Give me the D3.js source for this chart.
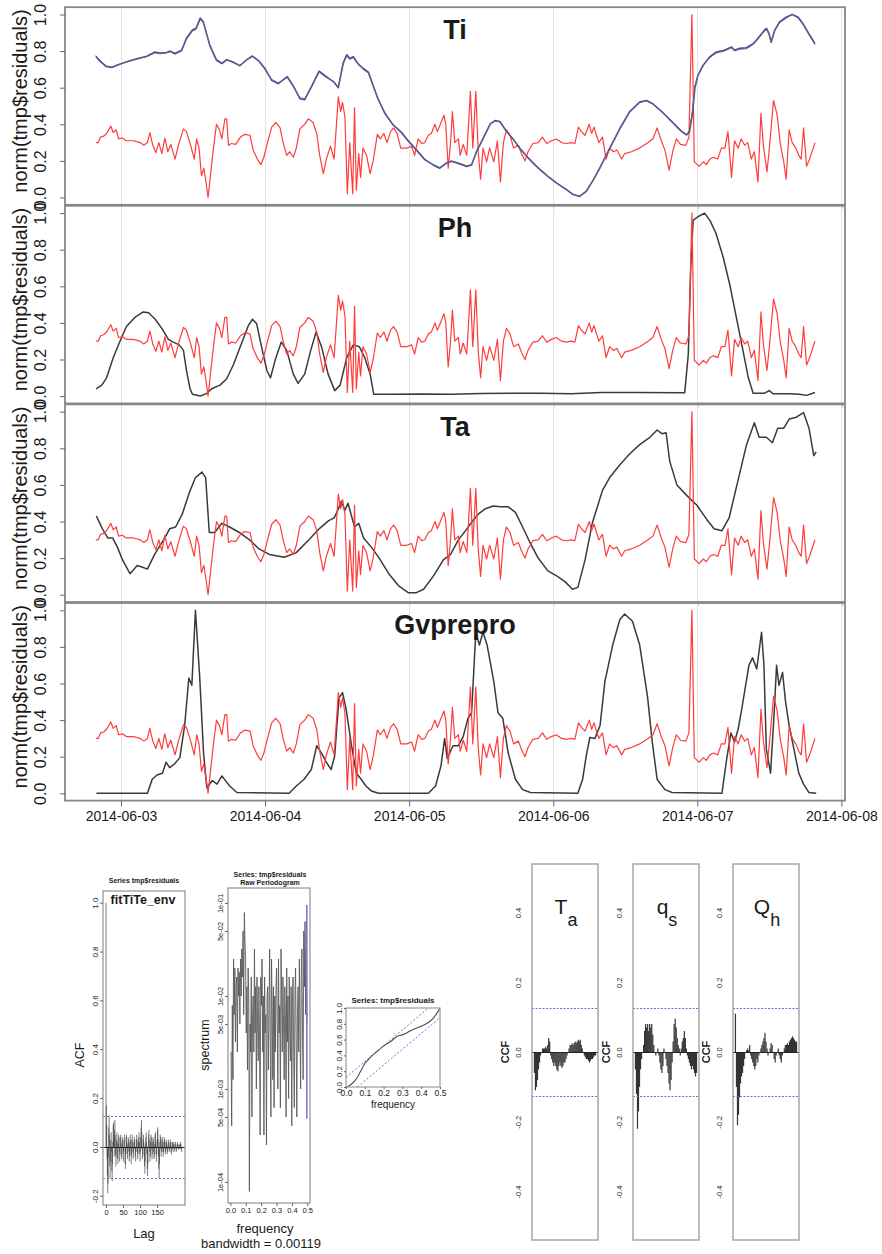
<!DOCTYPE html>
<html><head><meta charset="utf-8">
<script src="https://cdn.jsdelivr.net/npm/d3@7/dist/d3.min.js"></script>
<style>
html,body{margin:0;padding:0;background:#fff;}
svg{display:block;}
text{font-family:"Liberation Sans",Arial,Helvetica,sans-serif;fill:#1a1a1a;}
</style></head>
<body>
<svg id="chart" width="882" height="1254"></svg>
<script>
// ---------------- DATA ----------------
const panelTitles = ["Ti", "Ph", "Ta", "Gvprepro"];
const yAxisLabel = "norm(tmp$residuals)";
const yTickValues = [0, 0.2, 0.4, 0.6, 0.8, 1.0];
const dayLabels = ["2014-06-03", "2014-06-04", "2014-06-05", "2014-06-06", "2014-06-07", "2014-06-08"];

// hours since 2014-06-03 00:00
const redHours = [-4.2,-3.8,-3.4,-2.9,-2.4,-1.7,-1.3,-0.8,-0.4,0.2,
 0.9,2.05,3.2,3.8,4.4,4.8,5.3,5.8,6.3,6.8,
 7.3,7.8,8.3,9.0,9.6,10.4,10.9,11.6,12.2,12.6,
 13.0,13.4,13.8,14.2,14.5,14.9,15.4,15.9,16.4,16.8,
 17.3,17.6,17.9,18.4,19.1,19.9,20.6,21.5,22.0,22.7,
 23.3,23.8,24.4,25.1,25.8,26.5,27.0,27.6,28.1,28.7,
 29.2,29.8,30.6,31.2,32.0,32.6,33.1,33.7,34.2,34.9,
 35.5,36.2,36.6,36.9,37.3,37.7,38.1,38.6,38.9,39.2,
 39.6,39.9,40.3,40.9,41.5,42.0,42.7,43.2,43.8,44.3,
 44.9,45.4,46.0,46.6,47.6,48.4,48.9,49.5,50.1,50.6,
 51.2,51.7,52.3,52.7,53.2,53.8,54.1,54.5,54.9,55.2,
 55.6,56.2,56.5,57.0,57.6,58.2,58.6,59.1,59.5,59.9,
 60.3,60.9,61.4,62.1,62.7,63.2,63.7,64.2,64.8,65.4,
 66.2,66.7,67.3,67.8,68.6,69.5,70.2,70.9,71.7,72.5,
 73.4,74.2,75.0,75.6,76.2,76.7,77.3,78.0,78.4,78.8,
 79.2,79.6,80.2,80.8,81.4,82.0,82.6,83.4,83.9,85.0,
 86.4,87.8,88.6,89.3,90.0,90.6,91.3,91.9,92.5,93.2,
 94.1,94.6,95.1,95.5,96.3,97.0,97.5,98.1,98.7,99.4,
 100.0,100.6,101.1,101.7,102.2,102.8,103.3,103.9,104.4,105.0,
 105.5,106.1,106.6,107.0,107.6,108.0,108.7,109.3,109.8,110.4,
 110.8,111.3,111.8,112.4,112.9,113.3,113.7,114.2,114.7,115.6];
const redValues = [.30,.30,.33,.335,.35,.39,.355,.37,.32,.325,
 .31,.31,.30,.285,.30,.355,.285,.245,.30,.24,
 .325,.25,.29,.21,.29,.375,.36,.285,.21,.32,
 .27,.12,.16,.075,0,.12,.27,.40,.37,.32,
 .43,.43,.285,.295,.29,.33,.345,.34,.26,.21,
 .18,.22,.30,.385,.41,.38,.30,.23,.25,.22,
 .27,.375,.40,.43,.41,.35,.23,.13,.21,.28,
 .21,.55,.47,.52,.44,.02,.30,.02,.49,.04,
 .24,.11,.27,.23,.13,.20,.345,.32,.35,.30,
 .36,.38,.35,.27,.27,.28,.23,.32,.295,.30,
 .34,.35,.40,.36,.40,.45,.40,.16,.30,.47,
 .30,.32,.23,.29,.23,.58,.27,.58,.25,.10,
 .27,.195,.27,.195,.31,.085,.30,.37,.34,.27,
 .285,.24,.20,.25,.295,.30,.33,.295,.31,.32,
 .30,.295,.30,.295,.385,.36,.34,.40,.35,.385,
 .34,.30,.33,.21,.27,.25,.26,.21,.24,.25,
 .27,.30,.32,.38,.31,.26,.15,.25,.32,.29,
 .285,.33,1.0,.195,.17,.195,.18,.21,.22,.21,
 .27,.27,.36,.11,.31,.27,.32,.285,.30,.21,
 .25,.085,.46,.285,.14,.27,.53,.45,.30,.195,
 .10,.37,.30,.27,.23,.21,.38,.17,.21,.30];

const tiHours = [-4.2,-3.5,-2.5,-1.55,-0.44,0.94,2.6,4.3,5.66,6.5,
 7.6,8.2,9.0,10.1,10.9,11.9,12.5,13.2,13.7,14.8,
 15.9,16.8,17.6,18.7,19.8,20.9,21.9,22.9,23.97,25.1,
 26.2,27.7,28.7,29.8,30.6,31.7,33.0,34.2,35.4,36.2,
 37.0,37.6,38.1,38.7,39.5,40.35,41.2,42.0,42.8,43.95,
 45.3,46.7,47.8,49.2,50.6,52.0,53.1,54.2,55.05,56.2,
 57.6,58.4,59.2,60.3,61.5,62.3,63.1,64.2,65.4,66.4,
 67.6,68.65,69.8,71.1,72.5,74.2,75.3,76.4,77.5,78.6,
 79.7,81.4,83.1,84.7,86.4,87.5,88.6,90.3,91.95,93.4,
 94.2,94.7,95.2,95.6,96.1,96.95,98.05,99.2,100.5,101.7,
 102.2,103.05,104.2,105.3,106.1,106.95,107.5,107.95,108.3,108.9,
 109.7,110.8,111.8,112.8,113.6,114.4,115.6];
const tiObserved = [.776,.75,.72,.713,.727,.74,.755,.77,.79,.785,
 .79,.796,.783,.80,.864,.91,.918,.973,.955,.836,
 .755,.736,.755,.736,.722,.75,.77,.745,.70,.645,
 .627,.655,.605,.545,.54,.60,.685,.655,.636,.605,
 .727,.773,.755,.764,.727,.70,.68,.609,.536,.464,
 .40,.36,.315,.264,.21,.18,.164,.19,.20,.19,
 .173,.18,.245,.318,.40,.418,.413,.364,.318,.273,
 .227,.19,.155,.118,.082,.045,.018,.008,.036,.09,
 .155,.264,.373,.464,.518,.527,.51,.464,.41,.364,
 .345,.364,.48,.61,.664,.718,.764,.79,.80,.818,
 .80,.81,.813,.836,.864,.90,.918,.89,.845,.91,
 .955,.98,1.0,.98,.945,.90,.836];
const tiFitted = [.772,.745,.716,.71,.725,.742,.758,.772,.795,.79,
 .792,.80,.787,.805,.87,.915,.925,.98,.96,.83,
 .75,.732,.752,.74,.72,.752,.773,.748,.705,.64,
 .622,.66,.61,.54,.535,.605,.69,.66,.632,.60,
 .735,.78,.76,.77,.73,.705,.685,.612,.54,.46,
 .398,.355,.31,.26,.207,.178,.16,.188,.198,.186,
 .17,.178,.25,.322,.402,.42,.415,.362,.315,.27,
 .224,.188,.152,.115,.08,.043,.016,.006,.034,.092,
 .158,.268,.377,.468,.522,.53,.512,.462,.408,.36,
 .342,.36,.46,.60,.668,.722,.768,.795,.805,.822,
 .805,.815,.818,.84,.87,.905,.925,.895,.85,.915,
 .96,.985,1.0,.985,.95,.905,.84];

const phHours = [-4.16,-3.2,-2.4,-1.3,-0.17,0.9,2.3,3.7,4.6,5.7,
 6.8,7.9,8.7,9.7,10.4,10.9,11.5,11.9,13.2,14.3,
 15.1,16.5,17.6,18.7,20.1,21.2,21.9,22.6,23.4,24.3,
 24.9,25.8,26.7,27.6,28.7,29.5,30.6,31.6,32.5,33.4,
 34.5,35.6,36.5,37.6,38.7,39.7,40.6,41.5,42.1,45.0,
 50.0,55.0,60.0,65.0,70.0,75.0,80.0,86.0,93.9,94.5,
 94.9,95.3,96.1,97.2,98.1,99.1,100.3,101.4,102.5,103.6,
 104.5,105.3,106.4,107.2,108.0,108.6,111.4,113.0,114.2,115.6];
const phValues = [.04,.06,.10,.21,.30,.38,.43,.46,.455,.42,
 .37,.31,.295,.28,.25,.14,.04,.01,0,.015,
 .04,.06,.095,.17,.29,.385,.42,.395,.27,.14,
 .10,.21,.295,.25,.12,.07,.12,.25,.35,.27,
 .12,.03,.06,.21,.28,.27,.21,.12,.01,.01,
 .012,.01,.014,.016,.016,.013,.02,.02,.018,.23,
 .70,.96,.98,1.0,.96,.89,.76,.61,.43,.25,
 .10,.016,.016,.016,.03,.013,.013,.01,.004,.02];

const taHours = [-4.1,-3.1,-2.2,-1.4,-0.6,0.25,1.5,2.7,3.6,4.4,
 5.6,7.3,8.1,9.1,10.2,11.4,12.4,13.5,14.1,14.7,
 15.6,16.8,18.1,19.7,21.4,23.0,24.7,27.2,29.2,31.3,
 33.0,34.6,35.5,36.1,36.7,37.3,37.8,38.4,38.9,39.6,
 40.4,41.7,42.9,44.6,46.2,47.9,49.1,50.4,52.0,53.7,
 54.9,56.2,57.4,58.5,59.5,60.7,62.0,63.2,64.5,65.7,
 66.9,68.2,69.4,71.1,72.7,74.0,75.2,76.1,77.3,78.5,
 80.2,81.4,83.1,84.75,86.4,88.1,89.3,90.1,90.8,91.4,
 92.6,94.3,95.9,97.6,98.8,100.1,101.3,102.6,104.2,105.5,
 106.3,107.5,108.5,109.4,110.4,111.3,112.5,113.7,114.6,115.4,
 115.8];
const taValues = [.43,.36,.31,.31,.26,.19,.115,.16,.15,.14,
 .22,.31,.36,.37,.44,.56,.64,.67,.64,.34,
 .34,.39,.37,.34,.30,.25,.22,.205,.23,.30,
 .36,.405,.42,.46,.51,.46,.50,.43,.37,.39,
 .31,.26,.205,.115,.05,.01,.01,.03,.10,.19,
 .22,.30,.35,.40,.44,.47,.485,.48,.48,.45,
 .37,.28,.205,.13,.10,.07,.03,.04,.19,.39,
 .57,.64,.71,.77,.82,.86,.90,.88,.885,.73,
 .60,.54,.49,.41,.36,.35,.42,.60,.82,.94,
 .86,.86,.83,.91,.91,.96,.97,.995,.91,.76,
 .78];

const gvHours = [-4.1,4.4,5.2,6.0,6.9,7.5,8.1,8.9,9.8,10.6,
 11.3,11.8,12.4,13.1,13.75,14.3,15.2,16.0,16.8,18.1,
 19.3,28.0,29.2,30.5,31.7,32.6,33.4,34.2,35.0,35.6,
 36.3,36.9,37.5,38.4,39.2,40.0,40.8,41.7,42.9,51.2,
 52.4,53.3,53.9,54.35,55.3,56.2,57.0,57.8,58.4,59.1,
 59.7,60.3,60.98,61.6,62.1,62.8,63.6,64.5,65.7,66.9,
 68.2,76.1,76.9,77.5,78.1,78.95,79.8,80.6,81.9,83.1,
 83.9,85.2,86.4,87.7,88.5,89.3,90.6,91.8,100.1,100.9,
 101.6,102.2,102.8,103.4,104.6,105.2,105.9,106.7,107.1,107.5,
 108.2,108.8,109.2,109.6,110.2,110.7,111.3,112.1,112.9,113.7,
 114.6,115.8];
const gvValues = [0,0,.077,.10,.11,.17,.14,.16,.195,.37,
 .63,.59,1.0,.64,.22,.03,.07,.05,.095,.04,
 .004,0,.04,.077,.13,.26,.22,.17,.13,.205,
 .52,.55,.46,.26,.11,.077,.04,.013,0,0,
 .04,.15,.30,.19,.26,.26,.31,.41,.44,.88,
 .81,.88,.81,.70,.61,.44,.41,.22,.077,.02,
 .004,0,.077,.205,.305,.30,.37,.61,.81,.95,
 .98,.94,.81,.53,.28,.077,.02,.004,0,.19,
 .33,.28,.35,.46,.70,.74,.68,.88,.70,.24,
 .11,.44,.70,.59,.66,.50,.37,.24,.11,.05,
 .004,0];

// ACF of residuals, lags 0..223
const acfValues = [1.00,0.17,0.09,-0.05,-0.12,-0.19,-0.15,-0.04,0.08,0.13,
 0.05,-0.08,-0.13,-0.06,0.03,0.06,-0.02,-0.10,-0.14,-0.07,
 0.02,0.09,0.10,0.04,-0.04,0.07,0.11,0.05,-0.03,-0.08,
 -0.04,0.03,0.06,0.02,-0.05,-0.07,0.01,0.05,0.04,-0.02,
 -0.06,-0.03,0.04,0.05,0.01,-0.04,-0.05,0.02,0.04,0.03,
 -0.03,-0.06,-0.02,0.03,0.05,0.00,-0.07,-0.09,-0.03,0.04,
 0.05,0.02,-0.03,-0.05,0.01,0.04,0.03,-0.02,-0.06,-0.04,
 0.02,0.05,0.03,-0.03,-0.07,-0.04,0.03,0.05,0.02,-0.02,
 -0.05,-0.03,0.02,0.04,0.03,-0.01,-0.04,-0.06,-0.02,0.03,
 0.05,0.03,-0.02,-0.05,-0.03,0.02,0.04,0.06,0.02,-0.03,
 -0.06,-0.02,0.04,0.08,0.11,0.06,-0.01,-0.05,-0.03,0.03,
 0.05,0.02,-0.04,-0.08,-0.11,-0.06,0.01,0.04,0.06,0.02,
 -0.03,-0.09,-0.12,-0.07,0.00,0.05,0.07,0.03,-0.02,-0.06,
 -0.04,0.02,0.05,0.04,-0.01,-0.05,-0.03,0.02,0.04,0.03,
 -0.02,-0.05,-0.04,0.01,0.05,0.06,0.02,-0.03,-0.06,-0.03,
 0.03,0.07,0.08,0.03,-0.04,-0.09,-0.13,-0.07,0.02,0.05,
 0.04,-0.01,-0.04,-0.02,0.03,0.04,0.02,-0.02,-0.04,-0.02,
 0.02,0.04,0.03,-0.01,-0.03,-0.02,0.02,0.03,0.02,-0.01,
 -0.03,-0.02,0.01,0.03,0.02,-0.01,-0.02,-0.01,0.02,0.03,
 0.01,-0.02,-0.03,0.00,0.02,0.02,-0.01,-0.02,0.01,0.02,
 0.01,-0.01,-0.02,0.00,0.02,0.01,-0.01,-0.02,0.00,0.01,
 0.02,0.00,-0.01,-0.01,0.01,0.01,0.00,-0.01,0.01,0.02,
 0.01,-0.01,-0.02,0.00];
const acfTicks = [-0.2, 0.0, 0.2, 0.4, 0.6, 0.8, 1.0];
const lagTicks = [0, 50, 100, 150];
const acfBound = 0.128;

// raw periodogram, frequencies k/243, k = 1..121
const pgramValues = [2.5e-3,4e-4,7.9e-3,1.26e-3,2.5e-2,6.3e-3,2e-2,3.2e-3,1.26e-2,1.6e-2,2.5e-3,2e-2,
 1e-2,1.8e-2,5e-3,2.5e-2,1e-2,3.2e-2,1.6e-2,5e-2,6.3e-3,7.9e-2,4e-2,2.5e-2,
 4e-3,1.26e-2,1.6e-3,2e-2,1e-2,7.9e-5,5e-3,2.5e-3,1.6e-2,5e-4,6.3e-3,1e-2,
 2.5e-3,3.2e-2,4e-3,1.26e-2,1e-3,1.6e-2,5e-3,2e-3,1.26e-2,4e-3,3.2e-4,1.6e-2,
 7.9e-3,2.5e-2,2.5e-3,1e-2,3.2e-4,1.6e-2,4e-3,6.3e-3,2.5e-4,1e-2,1.26e-2,1.6e-3,
 6.3e-3,3.2e-2,3.2e-3,5e-4,2.5e-2,7.9e-3,1.26e-3,1.26e-2,6.3e-4,1e-2,2.5e-3,1.26e-2,
 2e-2,5e-3,1e-3,2.5e-2,4e-3,7.9e-3,6.3e-4,3.2e-2,1e-2,2.5e-3,1.6e-2,5e-3,
 1.26e-3,1.26e-2,6.3e-3,5e-4,2e-2,3.2e-3,1e-2,7.9e-4,1.6e-2,4e-3,2e-3,1.26e-2,
 4e-4,7.9e-3,1.6e-2,2.5e-3,6.3e-4,1e-2,2e-2,3.2e-3,5e-4,6.3e-3,1.26e-2,2.5e-3,
 2.5e-2,5e-3,1e-3,1.6e-2,3.2e-2,4e-3,1.26e-3,5e-2,1.26e-2,6.3e-2,6.3e-3,3.2e-2,5e-3];
const pgramN = 243;
const pgramTicks = [1e-4, 5e-4, 1e-3, 5e-3, 1e-2, 5e-2, 1e-1];
const pgramTickLabels = ["1e-04", "5e-04", "1e-03", "5e-03", "1e-02", "5e-02", "1e-01"];
const pgramCI = [4.8e-4, 9.5e-2];
const freqTicks = [0, 0.1, 0.2, 0.3, 0.4, 0.5];

// cumulative periodogram
const cpFreq = [0,.02,.04,.06,.08,.10,.12,.14,.16,.18,.20,.22,.24,.26,.28,.30,.32,.34,.36,.38,.40,.42,.44,.46,.48,.50];
const cpValues = [0,.02,.06,.12,.21,.30,.35,.40,.44,.48,.52,.55,.58,.62,.65,.66,.68,.71,.73,.75,.77,.79,.82,.86,.92,1.0];
const cpCrit = 0.1226;
const cpYTicks = [0, 0.2, 0.4, 0.6, 0.8, 1.0];

// cross-correlations, lags 0..60
const ccfTa = [-0.06,-0.11,-0.10,-0.08,-0.05,-0.03,-0.01,0.00,0.01,0.01,
 0.01,0.015,0.01,0.02,0.04,0.03,-0.01,-0.02,-0.03,-0.04,
 -0.03,-0.04,-0.05,-0.055,-0.04,-0.03,-0.04,-0.045,-0.04,-0.03,
 -0.03,-0.02,-0.01,0.00,0.01,0.02,0.02,0.025,0.02,0.025,
 0.03,0.025,0.03,0.035,0.03,0.035,0.02,0.01,0.00,-0.01,
 -0.015,-0.02,-0.02,-0.025,-0.03,-0.025,-0.02,-0.02,-0.015,-0.01,-0.01];
const ccfQs = [-0.05,-0.12,-0.22,-0.17,-0.10,-0.05,-0.02,0.00,0.02,0.06,
 0.08,0.07,0.08,0.06,0.08,0.07,0.08,0.05,0.02,0.00,
 -0.01,0.00,0.01,-0.01,-0.03,-0.05,-0.06,-0.04,0.01,0.00,
 -0.02,-0.04,-0.06,-0.09,-0.11,-0.08,-0.03,0.03,0.08,0.095,
 0.07,0.04,0.02,0.01,-0.01,0.01,0.03,0.04,0.06,0.04,
 0.01,-0.01,-0.02,-0.03,-0.04,-0.05,-0.04,-0.05,-0.06,-0.07,-0.06];
const ccfQh = [0.11,-0.10,-0.21,-0.18,-0.13,-0.09,-0.07,-0.06,-0.04,-0.02,
 0.00,0.005,0.01,0.005,0.02,-0.01,-0.02,-0.03,-0.04,-0.05,
 -0.04,-0.02,-0.03,-0.01,0.00,0.01,0.02,0.03,0.04,0.055,
 0.03,0.01,-0.01,0.00,0.01,0.025,0.02,0.00,-0.02,-0.03,
 -0.01,0.00,0.01,-0.01,-0.02,-0.03,-0.01,0.00,0.01,0.02,
 0.02,0.025,0.02,0.03,0.035,0.04,0.045,0.04,0.035,0.03,0.03];
const ccfSeries = [
  {main: "T", sub: "a", values: ccfTa},
  {main: "q", sub: "s", values: ccfQs},
  {main: "Q", sub: "h", values: ccfQh}
];
const ccfTicks = [-0.4, -0.2, 0.0, 0.2, 0.4];
const ccfBound = 0.126;

// ---------------- DRAW ----------------
const svg = d3.select("#chart");
const RED = "#ff3c3c", DARK = "#3a3a3a", BLUE = "#4848b0", DASHBLUE = "#6f6fd8";
const fmt1 = d => d.toFixed(1);
const snap = v => Math.round(v) + 0.5;

function rotText(g, x, y, txt, size, weight) {
  return g.append("text").attr("transform", `translate(${x},${y}) rotate(-90)`)
    .attr("text-anchor", "middle").attr("dominant-baseline", "central")
    .style("font-size", size + "px").style("font-weight", weight || "normal").text(txt);
}
function plainText(g, x, y, txt, size, weight) {
  return g.append("text").attr("x", x).attr("y", y).attr("text-anchor", "middle")
    .style("font-size", size + "px").style("font-weight", weight || "normal").text(txt);
}
function styleLeftAxis(ax, offset, size) {
  ax.attr("font-size", null).attr("font-family", null);
  ax.select(".domain").remove();
  ax.selectAll(".tick line").attr("stroke", "#666");
  ax.selectAll(".tick text").attr("x", null).attr("dy", null)
    .attr("transform", `translate(${-offset},0) rotate(-90)`)
    .attr("text-anchor", "middle").attr("dominant-baseline", "central")
    .style("font-size", size + "px").attr("fill", "#222");
}
function styleBottomAxis(ax, size) {
  ax.attr("font-size", null).attr("font-family", null);
  ax.select(".domain").remove();
  ax.selectAll(".tick line").attr("stroke", "#666");
  ax.selectAll(".tick text").style("font-size", size + "px").attr("fill", "#222");
}

// ---- main time-series panels ----
const t0 = Date.UTC(2014, 5, 3);
const toDate = h => new Date(t0 + h * 3600000);
const parseDay = d3.utcParse("%Y-%m-%d");
const dayTicks = dayLabels.map(parseDay);
const x = d3.scaleUtc().domain([toDate(-9.33), toDate(120.6)]).range([65, 845]);
const zip = (hs, vs) => hs.map((h, i) => [h, vs[i]]);

const panels = [
  {title: panelTitles[0], lines: [
    {data: zip(redHours, redValues), color: RED, w: 1.2},
    {data: zip(tiHours, tiFitted), color: BLUE, w: 1.6},
    {data: zip(tiHours, tiObserved), color: "#6a6a6a", w: 1.0}]},
  {title: panelTitles[1], lines: [
    {data: zip(phHours, phValues), color: DARK, w: 1.5},
    {data: zip(redHours, redValues), color: RED, w: 1.2}]},
  {title: panelTitles[2], lines: [
    {data: zip(taHours, taValues), color: DARK, w: 1.5},
    {data: zip(redHours, redValues), color: RED, w: 1.2}]},
  {title: panelTitles[3], lines: [
    {data: zip(gvHours, gvValues), color: DARK, w: 1.5},
    {data: zip(redHours, redValues), color: RED, w: 1.2}]}
];

panels.forEach((p, i) => {
  const y = d3.scaleLinear().domain([0, 1]).range([197.5 + 198.6 * i, 14.5 + 198.6 * i]);
  const top = y(1.04), bot = y(-0.04);
  const g = svg.append("g");
  g.selectAll("line.grid").data(dayTicks).join("line").attr("class", "grid")
    .attr("x1", d => snap(x(d))).attr("x2", d => snap(x(d))).attr("y1", top).attr("y2", bot)
    .attr("stroke", "#e4e4e4").attr("stroke-width", 1);
  const line = d3.line().x(d => x(toDate(d[0]))).y(d => y(d[1]));
  p.lines.forEach(l => g.append("path").attr("d", line(l.data)).attr("fill", "none")
    .attr("stroke", l.color).attr("stroke-width", l.w).attr("stroke-linejoin", "round"));
  g.append("rect").attr("x", 65).attr("y", top).attr("width", 780).attr("height", bot - top)
    .attr("fill", "none").attr("stroke", "#878787").attr("stroke-width", 1.8);
  const ya = g.append("g").attr("transform", "translate(65,0)")
    .call(d3.axisLeft(y).tickValues(yTickValues).tickFormat(fmt1).tickSize(5));
  styleLeftAxis(ya, 25, 16);
  rotText(g, 20, y(0.5) - 5, yAxisLabel, 20);
  plainText(g, 455, y(1) + 24, p.title, 27, "bold").attr("fill", "#000");
  const xa = g.append("g").attr("transform", `translate(0,${bot})`)
    .call(d3.axisBottom(x).tickValues(dayTicks).tickSize(i === 3 ? 6 : 4).tickPadding(4)
      .tickFormat(i === 3 ? d3.utcFormat("%Y-%m-%d") : () => ""));
  styleBottomAxis(xa, 14);
});

// ---- ACF panel ----
{
  const g = svg.append("g");
  const ax = d3.scaleLinear().domain([-0.04 * 223, 1.04 * 223]).range([103, 185]);
  const ay = d3.scaleLinear().domain([-0.238, 1.048]).range([1205, 891]);
  g.selectAll("line.spk").data(acfValues).join("line")
    .attr("x1", (d, i) => ax(i)).attr("x2", (d, i) => ax(i))
    .attr("y1", ay(0)).attr("y2", d => ay(d)).attr("stroke", "#444").attr("stroke-width", 0.7);
  g.append("line").attr("x1", 103).attr("x2", 185).attr("y1", snap(ay(0))).attr("y2", snap(ay(0))).attr("stroke", "#222").attr("stroke-width", 1);
  [acfBound, -acfBound].forEach(b => g.append("line").attr("x1", 103).attr("x2", 185)
    .attr("y1", snap(ay(b))).attr("y2", snap(ay(b))).attr("stroke", DASHBLUE).attr("stroke-width", 1).attr("stroke-dasharray", "2,2"));
  g.append("rect").attr("x", 103).attr("y", 891).attr("width", 82).attr("height", 314)
    .attr("fill", "none").attr("stroke", "#9a9a9a").attr("stroke-width", 1.3);
  const ya = g.append("g").attr("transform", "translate(103,0)")
    .call(d3.axisLeft(ay).tickValues(acfTicks).tickFormat(fmt1).tickSize(3));
  styleLeftAxis(ya, 8, 8);
  const xa = g.append("g").attr("transform", "translate(0,1205)")
    .call(d3.axisBottom(ax).tickValues(lagTicks).tickSize(3).tickPadding(2));
  styleBottomAxis(xa, 7.5);
  plainText(g, 144, 883, "Series  tmp$residuals", 7, "bold");
  plainText(g, 143, 904, "fitTiTe_env", 12.5, "bold").attr("fill", "#000");
  rotText(g, 80, 1055, "ACF", 12.5);
  plainText(g, 144, 1238, "Lag", 13);
}

// ---- raw periodogram ----
{
  const g = svg.append("g");
  const px = d3.scaleLinear().domain([-0.0157, 0.5178]).range([228, 310]);
  const py = d3.scaleLog().domain([5.94e-5, 0.145]).range([1203, 888]);
  const pts = pgramValues.map((v, i) => [(i + 1) / pgramN, v]);
  g.append("path").attr("d", d3.line().x(d => px(d[0])).y(d => py(d[1]))(pts))
    .attr("fill", "none").attr("stroke", "#555").attr("stroke-width", 0.85);
  g.append("line").attr("x1", px(0.497)).attr("x2", px(0.497)).attr("y1", py(pgramCI[0])).attr("y2", py(pgramCI[1]))
    .attr("stroke", "#7878d0").attr("stroke-width", 1.6);
  g.append("rect").attr("x", 228).attr("y", 888).attr("width", 82).attr("height", 315)
    .attr("fill", "none").attr("stroke", "#9a9a9a").attr("stroke-width", 1.3);
  const ya = g.append("g").attr("transform", "translate(228,0)")
    .call(d3.axisLeft(py).tickValues(pgramTicks).tickFormat((d, i) => pgramTickLabels[i]).tickSize(3));
  styleLeftAxis(ya, 8, 7.5);
  const xa = g.append("g").attr("transform", "translate(0,1203)")
    .call(d3.axisBottom(px).tickValues(freqTicks).tickFormat(fmt1).tickSize(3).tickPadding(2));
  styleBottomAxis(xa, 7.5);
  plainText(g, 270, 877, "Series: tmp$residuals", 7, "bold");
  plainText(g, 270, 885, "Raw Periodogram", 7, "bold");
  rotText(g, 205, 1045, "spectrum", 12.5);
  plainText(g, 265, 1233, "frequency", 13);
  plainText(g, 261, 1248, "bandwidth = 0.00119", 13);
}

// ---- cumulative periodogram ----
{
  const g = svg.append("g");
  const L = 346, R = 440, T = 1008, B = 1087;
  const cx = d3.scaleLinear().domain([0, 0.5]).range([L, R]);
  const cy = d3.scaleLinear().domain([0, 1]).range([B, T]);
  g.append("path").attr("d", d3.line().x((d, i) => cx(cpFreq[i])).y(d => cy(d))(cpValues))
    .attr("fill", "none").attr("stroke", "#4a4a4a").attr("stroke-width", 1.1);
  g.append("line").attr("x1", cx(0)).attr("y1", cy(cpCrit)).attr("x2", cx(0.5 * (1 - cpCrit))).attr("y2", cy(1))
    .attr("stroke", DASHBLUE).attr("stroke-dasharray", "2,2");
  g.append("line").attr("x1", cx(0.5 * cpCrit)).attr("y1", cy(0)).attr("x2", cx(0.5)).attr("y2", cy(1 - cpCrit))
    .attr("stroke", DASHBLUE).attr("stroke-dasharray", "2,2");
  g.append("rect").attr("x", L).attr("y", T).attr("width", R - L).attr("height", B - T)
    .attr("fill", "none").attr("stroke", "#9a9a9a").attr("stroke-width", 1.2);
  const ya = g.append("g").attr("transform", `translate(${L},0)`)
    .call(d3.axisLeft(cy).tickValues(cpYTicks).tickFormat(fmt1).tickSize(2));
  styleLeftAxis(ya, 7, 8);
  const xa = g.append("g").attr("transform", `translate(0,${B})`)
    .call(d3.axisBottom(cx).tickValues(freqTicks).tickFormat(fmt1).tickSize(2).tickPadding(1));
  styleBottomAxis(xa, 8.5);
  plainText(g, (L + R) / 2, T - 5, "Series:  tmp$residuals", 8, "bold");
  plainText(g, (L + R) / 2, B + 21, "frequency", 10);
}

// ---- CCF panels ----
ccfSeries.forEach((s, i) => {
  const left = [532, 633, 733][i], w = 66;
  const g = svg.append("g");
  const cx = d3.scaleLinear().domain([-2.4, 62.4]).range([left, left + w]);
  const cy = d3.scaleLinear().domain([-0.539, 0.539]).range([1240, 864]);
  g.selectAll("line.spk").data(s.values).join("line")
    .attr("x1", (d, k) => cx(k)).attr("x2", (d, k) => cx(k))
    .attr("y1", cy(0)).attr("y2", d => cy(d)).attr("stroke", "#333").attr("stroke-width", 1.2);
  g.append("line").attr("x1", left).attr("x2", left + w).attr("y1", snap(cy(0))).attr("y2", snap(cy(0))).attr("stroke", "#222");
  [ccfBound, -ccfBound].forEach(b => g.append("line").attr("x1", left).attr("x2", left + w)
    .attr("y1", snap(cy(b))).attr("y2", snap(cy(b))).attr("stroke", DASHBLUE).attr("stroke-dasharray", "2,1.5"));
  g.append("rect").attr("x", left).attr("y", 864).attr("width", w).attr("height", 376)
    .attr("fill", "none").attr("stroke", "#a0a0a0").attr("stroke-width", 1.4);
  const ya = g.append("g").attr("transform", `translate(${left},0)`)
    .call(d3.axisLeft(cy).tickValues(ccfTicks).tickFormat(fmt1).tickSize(0));
  styleLeftAxis(ya, 14, 7.5);
  rotText(g, left - 27, cy(0), "CCF", 11, "bold");
  const t = g.append("text").attr("x", left + w / 2 + 1).attr("y", 914).attr("text-anchor", "middle")
    .style("font-size", "21px").attr("fill", "#000");
  t.append("tspan").text(s.main);
  t.append("tspan").attr("dy", 12).style("font-size", "18px").text(s.sub);
});
</script>
</body></html>
